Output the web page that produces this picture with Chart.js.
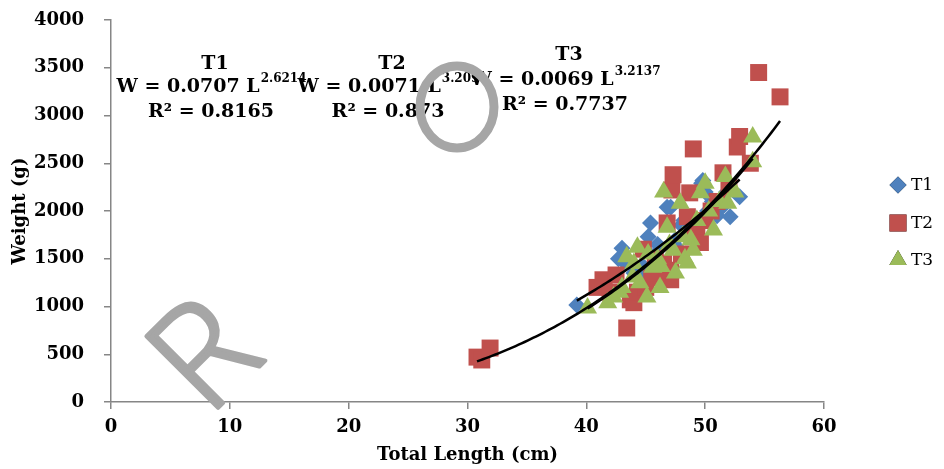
<!DOCTYPE html>
<html>
<head>
<meta charset="utf-8">
<script src="https://cdn.jsdelivr.net/npm/chart.js@4.4.1/dist/chart.umd.min.js"></script>
<style>
  html, body { margin: 0; padding: 0; background: #fff; }
  #wrap { width: 944px; height: 469px; position: relative; }
</style>
</head>
<body>
<div id="wrap"><canvas id="chartPeso"></canvas></div>
<script>
// series T1, T2, T3 : total length (cm) / weight (g)
const seriesNames = ["T1", "T2", "T3"];
const seriesColors = ["#4F81BD", "#C0504D", "#9BBB59"];
const seriesStyles = ["rectRot", "rect", "triangle"];

const t1Length = [39.2, 42.7, 43.0, 43.3, 44.0, 44.5, 44.8, 45.2, 45.4, 45.8, 46.0, 46.2, 46.8, 47.1, 47.5, 47.8, 48.0, 48.2, 48.6, 49.0, 49.7, 49.8, 50.0, 50.2, 50.6, 51.0, 51.5, 51.8, 52.1, 52.9];
const t1Weight = [1016, 1500, 1610, 1450, 1350, 1300, 1420, 1730, 1875, 1550, 1650, 1450, 2040, 2040, 1700, 1600, 1850, 1900, 1800, 1750, 2290, 2320, 2200, 2000, 2100, 1950, 2050, 2200, 1940, 2150];

const t2Length = [30.8, 31.2, 31.9, 40.9, 41.4, 41.5, 42.0, 42.5, 43.4, 43.7, 44.0, 44.3, 44.8, 45.0, 45.5, 45.8, 46.0, 46.5, 46.8, 47.1, 47.1, 47.2, 47.3, 48.0, 48.5, 48.7, 49.0, 49.0, 49.3, 49.6, 50.0, 50.5, 51.0, 51.5, 52.0, 52.7, 52.9, 53.8, 54.5, 56.3];
const t2Weight = [470, 440, 565, 1200, 1280, 1240, 1150, 1330, 775, 1070, 1040, 1150, 1600, 1200, 1300, 1500, 1350, 1450, 1875, 1280, 1380, 2220, 2380, 1550, 1940, 2190, 2650, 1730, 1830, 1670, 1900, 2000, 2100, 2400, 2250, 2670, 2780, 2500, 3450, 3195];

const t3Length = [40.1, 41.8, 42.3, 42.8, 43.0, 43.4, 43.9, 44.0, 44.3, 44.5, 45.1, 45.2, 45.6, 46.0, 46.2, 46.3, 46.5, 46.8, 47.0, 47.3, 47.5, 47.9, 48.1, 48.3, 48.5, 48.8, 49.0, 49.3, 49.6, 50.0, 50.3, 50.7, 51.2, 51.7, 51.9, 52.5, 54.0, 54.0];
const t3Weight = [985, 1040, 1100, 1150, 1200, 1520, 1310, 1450, 1620, 1250, 1100, 1550, 1410, 1500, 1200, 1420, 2200, 1830, 1650, 1590, 1350, 2080, 1730, 1500, 1455, 1700, 1590, 1900, 2190, 2290, 2000, 1800, 2100, 2360, 2080, 2200, 2775, 2515];

// power trend lines W = a * L^b as printed on the chart
const fitA = [0.0707, 0.0071, 0.0069];
const fitB = ["2.6214", "3.209", "3.2137"];
const fitR2 = ["0.8165", "0.873", "0.7737"];

const xTicks = [0, 10, 20, 30, 40, 50, 60];
const yTicks = [0, 500, 1000, 1500, 2000, 2500, 3000, 3500, 4000];

const lengths = [t1Length, t2Length, t3Length];
const weights = [t1Weight, t2Weight, t3Weight];

function toPoints(xs, ys) {
    return xs.map((x, i) => ({ x: x, y: ys[i] }));
}

function trendPoints(xs, a, b) {
    const lo = Math.min(...xs), hi = Math.max(...xs);
    const pts = [];
    for (let x = lo; x < hi; x += 0.25) pts.push({ x: x, y: a * Math.pow(x, b) });
    pts.push({ x: hi, y: a * Math.pow(hi, b) });
    return pts;
}

const radii = [8.5, 12, 11];
const datasets = [];
seriesNames.forEach((name, i) => {
    datasets.push({
        label: name,
        data: toPoints(lengths[i], weights[i]),
        pointStyle: seriesStyles[i],
        pointRadius: radii[i],
        pointBackgroundColor: seriesColors[i],
        pointBorderWidth: 0,
        backgroundColor: seriesColors[i],
        showLine: false,
        order: 3 - i
    });
});
seriesNames.forEach((name, i) => {
    datasets.push({
        label: name + " trend",
        data: trendPoints(lengths[i], fitA[i], parseFloat(fitB[i])),
        showLine: true,
        borderColor: "#000",
        borderWidth: 2.5,
        pointRadius: 0,
        fill: false,
        tension: 0,
        order: 0
    });
});

const serif = "'DejaVu Serif', 'Liberation Serif', serif";

// equations, legend and the grey marks drawn on top
const extras = {
    id: "extras",
    afterDraw(chart) {
        const ctx = chart.ctx;
        ctx.save();
        ctx.fillStyle = "#000";
        ctx.textBaseline = "middle";

        const blocks = [
            { cx: 211, y: [64, 87, 112] },
            { cx: 388, y: [64, 87, 112] },
            { cx: 565, y: [55, 80, 105] }
        ];
        blocks.forEach((b, i) => {
            ctx.textAlign = "center";
            ctx.font = "bold 19px " + serif;
            ctx.fillText(seriesNames[i], b.cx + 4, b.y[0]);
            ctx.fillText("R\u00B2 = " + fitR2[i], b.cx, b.y[2]);

            const main = "W = " + fitA[i].toFixed(4) + " L";
            const w1 = ctx.measureText(main).width;
            ctx.font = "bold 12px " + serif;
            const w2 = ctx.measureText(fitB[i]).width;
            const x0 = b.cx - (w1 + w2) / 2;
            ctx.textAlign = "left";
            ctx.font = "bold 19px " + serif;
            ctx.fillText(main, x0, b.y[1]);
            ctx.font = "bold 12px " + serif;
            ctx.fillText(fitB[i], x0 + w1 + 1, b.y[1] - 8);
        });

        // legend
        const legendY = [185, 223, 260];
        seriesNames.forEach((name, i) => {
            Chart.helpers.drawPoint(ctx, {
                pointStyle: seriesStyles[i],
                radius: i === 2 ? 10 : radii[i],
                borderWidth: 0,
                rotation: 0
            }, 898, legendY[i]);
            ctx.fillStyle = seriesColors[i];
            ctx.fill();
            ctx.fillStyle = "#000";
            ctx.font = "17px " + serif;
            ctx.textAlign = "left";
            ctx.fillText(name, 911, legendY[i] + 1);
        });

        // grey ring
        ctx.strokeStyle = "#a6a6a6";
        ctx.lineWidth = 9;
        ctx.beginPath();
        ctx.ellipse(457, 107, 37, 41, 0, 0, Math.PI * 2);
        ctx.stroke();

        // grey rotated R
        ctx.translate(208, 418);
        ctx.rotate(-Math.PI / 4);
        ctx.fillStyle = "#a6a6a6";
        ctx.strokeStyle = "#a6a6a6";
        ctx.lineWidth = 4;
        ctx.lineJoin = "round";
        ctx.font = "300 142px 'Open Sans', 'Lato', sans-serif";
        ctx.textAlign = "left";
        ctx.textBaseline = "alphabetic";
        ctx.fillText("R", 0, 0);
        ctx.strokeText("R", 0, 0);
        ctx.restore();
    }
};

new Chart(document.getElementById("chartPeso"), {
    type: "scatter",
    data: { datasets: datasets },
    options: {
        responsive: true,
        maintainAspectRatio: false,
        animation: false,
        layout: { padding: { top: 20, right: 120, left: 0, bottom: 0 } },
        plugins: {
            legend: { display: false },
            tooltip: { enabled: false }
        },
        scales: {
            x: {
                type: "linear",
                min: 0,
                max: 60,
                afterBuildTicks: (s) => { s.ticks = xTicks.map(v => ({ value: v })); },
                afterFit: (s) => { s.height = 67; },
                ticks: {
                    color: "#000", padding: 8,
                    font: { family: serif, size: 18, weight: "bold" },
                    callback: (v) => String(v)
                },
                grid: { drawOnChartArea: false, drawTicks: true, tickLength: 7, color: "#868686", lineWidth: 1.5 },
                border: { color: "#868686", width: 1.5 },
                title: {
                    display: true,
                    text: "Total Length (cm)",
                    color: "#000",
                    font: { family: serif, size: 18, weight: "bold" },
                    padding: { top: 0, bottom: 3 }
                }
            },
            y: {
                min: 0,
                max: 4000,
                afterBuildTicks: (s) => { s.ticks = yTicks.map(v => ({ value: v })); },
                afterFit: (s) => { s.width = 111; s.paddingTop = 11; s.paddingBottom = 11; },
                ticks: {
                    color: "#000", padding: 20,
                    font: { family: serif, size: 18, weight: "bold" },
                    callback: (v) => String(v)
                },
                grid: { drawOnChartArea: false, drawTicks: true, tickLength: 7, color: "#868686", lineWidth: 1.5 },
                border: { color: "#868686", width: 1.5 },
                title: {
                    display: true,
                    text: "Weight (g)",
                    color: "#000",
                    font: { family: serif, size: 18, weight: "bold" },
                    padding: { top: 10, bottom: 0 }
                }
            }
        }
    },
    plugins: [extras]
});
</script>
</body>
</html>
